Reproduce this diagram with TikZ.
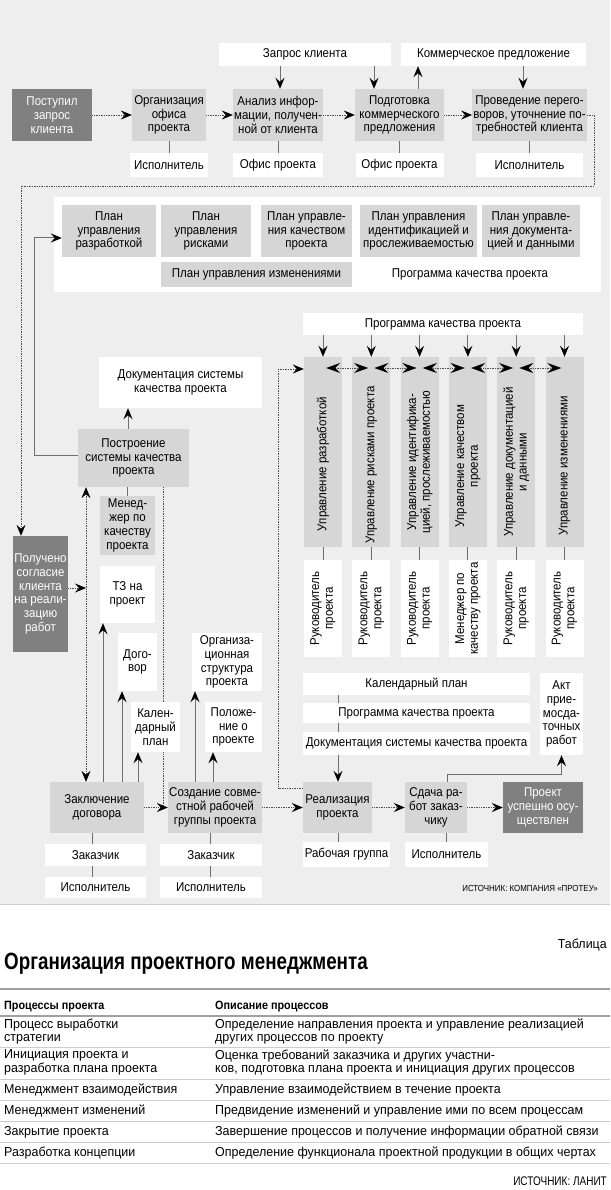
\documentclass[tikz,border=0pt]{standalone}
\usepackage{fontspec}
\setmainfont{Liberation Sans}
\newfontfamily\dfont[FakeStretch=0.9]{Liberation Sans}
\newfontfamily\tfont[FakeStretch=0.96]{Liberation Sans}
\newfontfamily\hfont[FakeStretch=0.8]{Liberation Sans}
\newfontfamily\hdfont[FakeStretch=0.9]{Liberation Sans}
\usetikzlibrary{arrows.meta,calc}
\pgfdeclarelayer{bgl}\pgfdeclarelayer{lines}
\pgfsetlayers{bgl,lines,main}
\definecolor{bgc}{RGB}{238,238,238}
\definecolor{lgc}{RGB}{214,214,214}
\definecolor{dgc}{RGB}{128,128,128}
\definecolor{lnc}{RGB}{110,110,110}
\definecolor{dlc}{RGB}{80,80,80}
\definecolor{rulec}{RGB}{160,160,160}
\definecolor{rulel}{RGB}{205,205,205}
\tikzset{
 box/.style={inner sep=1pt, align=center, font=\dfont\fontsize{12.8}{13.8}\selectfont},
 lg/.style={box, fill=lgc},
 wb/.style={box, fill=white},
 dk/.style={box, fill=dgc, text=white},
 wh/.style 2 args={minimum width=#1pt, minimum height=#2pt},
 sline/.style={draw=lnc, line width=1pt},
 dline/.style={draw=dlc, line width=0.7pt, densely dotted},
 arr/.style={-{Stealth[length=11pt,width=9pt,inset=4pt,color=black]}},
 darr/.style={{Stealth[length=11pt,width=9pt,inset=4pt,color=black]}-{Stealth[length=11pt,width=9pt,inset=4pt,color=black]}},
 barr/.style={{Stealth[length=14pt,width=10pt,inset=5pt,color=black]}-{Stealth[length=14pt,width=10pt,inset=5pt,color=black]}},
 rot/.style={box, rotate=90},
 trow/.style={anchor=west, inner sep=0pt, align=left, font=\tfont\fontsize{13}{13.5}\selectfont},
 thdr/.style={anchor=west, inner sep=0pt, font=\hdfont\bfseries\fontsize{12}{14}\selectfont},
}
\begin{document}
\begin{tikzpicture}[x=1pt,y=-1pt]
\useasboundingbox (0,0) rectangle (610,1190);
\begin{pgfonlayer}{bgl}
\fill[bgc] (0,0) rectangle (610,904);
\draw[rulel] (0,904) -- (610,904);
\fill[white] (54,197) rectangle (601,292);
\end{pgfonlayer}

% ---------- top row
\node[dk,wh={80}{52}] (post) at (52,115) {Поступил\\запрос\\клиента};
\node[lg,wh={74}{52}] (org) at (169,115) {Организация\\офиса\\проекта};
\node[lg,wh={90}{52}] (anal) at (278,115) {Анализ инфор-\\мации, получен-\\ной от клиента};
\node[lg,wh={89}{52}] (podg) at (399.5,115) {Подготовка\\коммерческого\\предложения};
\node[lg,wh={113}{52}] (prov) at (529.5,115) {Проведение перего-\\воров, уточнение по-\\требностей клиента};
\node[wb,wh={172}{23}] (zapr) at (305,54.5) {Запрос клиента};
\node[wb,wh={185}{23}] (komm) at (493.5,54.5) {Коммерческое предложение};
\node[wb,wh={78}{24}] (isp1) at (169,165) {Исполнитель};
\node[wb,wh={90}{24}] (off1) at (278,165) {Офис проекта};
\node[wb,wh={88}{24}] (off2) at (399.5,165) {Офис проекта};
\node[wb,wh={107}{24}] (isp2) at (529.5,165) {Исполнитель};

% ---------- plans
\node[lg,wh={94}{52}] (p1) at (109,231) {План\\управления\\разработкой};
\node[lg,wh={90}{52}] (p2) at (206,231) {План\\управления\\рисками};
\node[lg,wh={91}{52}] (p3) at (306.5,231) {План управле-\\ния качеством\\проекта};
\node[lg,wh={117}{52}] (p4) at (418.5,231) {План управления\\идентификацией и\\прослеживаемостью};
\node[lg,wh={98}{52}] (p5) at (531,231) {План управле-\\ния документа-\\цией и данными};
\node[lg,wh={191}{25}] (p6) at (256.5,274.5) {План управления изменениями};
\node[wb,wh={220}{25}] (p7) at (470,274.5) {Программа качества проекта};

% ---------- left middle
\node[wb,wh={163}{51}] (dokum) at (180.5,382.5) {Документация системы\\качества проекта};
\node[lg,wh={111}{58}] (postr) at (133.5,458) {Построение\\системы качества\\проекта};
\node[lg,wh={55}{59}] (men) at (127.5,525.5) {Менед-\\жер по\\качеству\\проекта};
\node[dk,wh={55}{116}] (poluch) at (40.5,594) {Получено\\согласие\\клиента\\на реали-\\зацию\\работ};
\node[wb,wh={55}{57}] (tz) at (127.5,594.5) {ТЗ на\\проект};
\node[wb,wh={39}{58}] (dog) at (137.5,662) {Дого-\\вор};
\node[wb,wh={49}{50}] (kal) at (155.5,727) {Кален-\\дарный\\план};
\node[wb,wh={70}{58}] (ostr) at (227,662) {Организа-\\ционная\\структура\\проекта};
\node[wb,wh={57}{50}] (polo) at (233.5,727) {Положе-\\ние о\\проекте};
\node[lg,wh={94}{51}] (zakl) at (97,807.5) {Заключение\\договора};
\node[lg,wh={94}{51}] (sozd) at (215,807.5) {Создание совме-\\стной рабочей\\группы проекта};
\node[wb,wh={101}{22}] (zak1) at (95.5,855) {Заказчик};
\node[wb,wh={102}{22}] (zak2) at (211,855) {Заказчик};
\node[wb,wh={101}{21}] (isp4) at (95.5,887.5) {Исполнитель};
\node[wb,wh={102}{21}] (isp5) at (211,887.5) {Исполнитель};

% ---------- right side
\node[wb,wh={280}{22}] (prog) at (443,324) {Программа качества проекта};
\node[lg,wh={38}{190}] (c1) at (323,452) {};
\node[lg,wh={38}{190}] (c2) at (371.3,452) {};
\node[lg,wh={38}{190}] (c3) at (419.6,452) {};
\node[lg,wh={38}{190}] (c4) at (467.9,452) {};
\node[lg,wh={38}{190}] (c5) at (516.2,452) {};
\node[lg,wh={38}{190}] (c6) at (564.5,452) {};
\node[rot] (t1) at (323,464) {Управление разработкой};
\node[rot] (t2) at (371.3,465) {Управление рисками проекта};
\node[rot] (t3) at (419.6,462) {Управление идентифика-\\цией, прослеживаемостью};
\node[rot] (t4) at (467.9,466) {Управление качеством\\проекта};
\node[rot] (t5) at (516.2,462) {Управление документацией\\и данными};
\node[rot] (t6) at (564.5,466) {Управление изменениями};
\node[wb,wh={38}{97}] (l1) at (323,608.5) {};
\node[wb,wh={38}{97}] (l2) at (371.3,608.5) {};
\node[wb,wh={38}{97}] (l3) at (419.6,608.5) {};
\node[wb,wh={38}{97}] (l4) at (467.9,608.5) {};
\node[wb,wh={38}{97}] (l5) at (516.2,608.5) {};
\node[wb,wh={38}{97}] (l6) at (564.5,608.5) {};
\node[rot] (lt1) at (l1) {Руководитель\\проекта};
\node[rot] (lt2) at (l2) {Руководитель\\проекта};
\node[rot] (lt3) at (l3) {Руководитель\\проекта};
\node[rot] (lt4) at (l4) {Менеджер по\\качеству проекта};
\node[rot] (lt5) at (l5) {Руководитель\\проекта};
\node[rot] (lt6) at (l6) {Руководитель\\проекта};
\node[wb,wh={227}{22}] (kalp) at (416.5,684) {Календарный план};
\node[wb,wh={227}{20}] (prog2) at (416.5,713) {Программа качества проекта};
\node[wb,wh={227}{23}] (dok2) at (416.5,743.5) {Документация системы качества проекта};
\node[wb,wh={43}{82}] (akt) at (561.5,714) {Акт\\прие-\\мосда-\\точных\\работ};
\node[lg,wh={69}{51}] (real) at (337.5,807.5) {Реализация\\проекта};
\node[lg,wh={62}{51}] (sdach) at (436,807.5) {Сдача ра-\\бот заказ-\\чику};
\node[dk,wh={80}{51}] (uspeh) at (543,807.5) {Проект\\успешно осу-\\ществлен};
\node[wb,wh={87}{25}] (rabgr) at (346.5,854.5) {Рабочая группа};
\node[wb,wh={83}{25}] (isp3) at (446.5,854.5) {Исполнитель};
\node[anchor=east, inner sep=0pt, font=\dfont\fontsize{8.8}{10}\selectfont] (src1) at (598,888) {ИСТОЧНИК: КОМПАНИЯ «ПРОТЕУ»};

\coordinate (x86) at (86,0);
\coordinate (x103) at (103,0);
\coordinate (x122) at (122,0);
\coordinate (x138) at (138,0);
\coordinate (x163) at (163,0);
\coordinate (x195) at (195,0);
\coordinate (x213) at (213,0);
\coordinate (x338) at (338,0);

\begin{pgfonlayer}{lines}
% top row
\draw[dline,arr] (post) -- (org);
\draw[dline,arr] (org) -- (anal);
\draw[dline,arr] (anal) -- (podg);
\draw[dline,arr] (podg) -- (prov);
\draw[sline,arr] ([xshift=2pt]anal.north |- zapr.south) -- ([xshift=2pt]anal.north);
\draw[sline,arr] ([xshift=-25.5pt]podg.north |- zapr.south) -- ([xshift=-25.5pt]podg.north);
\draw[sline,arr] ([xshift=18.5pt]podg.north) -- ([xshift=18.5pt]podg.north |- komm.south);
\draw[sline,arr] ([xshift=-6.5pt]prov.north |- komm.south) -- ([xshift=-6.5pt]prov.north);
\draw[sline] (org) -- (isp1);
\draw[sline] (anal) -- (off1);
\draw[sline] (podg) -- (off2);
\draw[sline] (prov) -- (isp2);
\draw[dline,arr] (prov.east) -- ++(7,0) -- ++(0,71) -| ([xshift=-19.5pt]poluch.north);
% left
\draw[sline,arr] ([yshift=3pt]postr.west) -- ++(-43,0) |- ([yshift=-7pt]p1.west);
\draw[sline,arr] ([xshift=-5.5pt]postr.north) -- ([xshift=-5.5pt]postr.north |- dokum.south);
\draw[sline] (men.north |- postr.south) -- (men.north);
\draw[dline,darr] (postr.south -| x86) -- (zakl.north -| x86);
\draw[dline,arr] ([yshift=6pt]poluch.east) -- ([yshift=6pt]poluch.east -| x86);
\draw[dline] (postr.south -| x163) -- (zakl.east -| x163);
\draw[dline,arr] (zakl) -- (sozd);
\draw[sline,arr] (zakl.north -| x103) -- (tz.south -| x103);
\draw[sline,arr] (zakl.north -| x122) -- (dog.south -| x122);
\draw[sline,arr] (zakl.north -| x138) -- (kal.south -| x138);
\draw[sline,arr] (sozd.north -| x195) -- (ostr.south -| x195);
\draw[sline,arr] (sozd.north -| x213) -- (polo.south -| x213);
\draw[sline] ([xshift=-5pt]zakl.south) -- ([xshift=-5pt]zakl.south |- zak1.north);
\draw[sline] ([xshift=-5pt]zakl.south |- zak1.south) -- ([xshift=-5pt]zakl.south |- isp4.north);
\draw[sline] ([xshift=-5pt]sozd.south) -- ([xshift=-5pt]sozd.south |- zak2.north);
\draw[sline] ([xshift=-5pt]sozd.south |- zak2.south) -- ([xshift=-5pt]sozd.south |- isp5.north);
% right
\draw[dline,arr] (sozd) -- (real);
\draw[dline,arr] (real) -- (sdach);
\draw[dline,arr] (sdach) -- (uspeh);
\draw[dline,arr] ([yshift=19.5pt]real.west) -- ++(-24,0) |- ([yshift=83pt]c1.west);
\foreach \c in {c1,c2,c3,c4,c5,c6}{
  \draw[sline,arr] (prog.south -| \c.north) -- (\c.north);
}
\draw[sline] (c1) -- (l1); \draw[sline] (c2) -- (l2); \draw[sline] (c3) -- (l3);
\draw[sline] (c4) -- (l4); \draw[sline] (c5) -- (l5); \draw[sline] (c6) -- (l6);
\draw[sline] (kalp.south -| x338) -- (prog2.north -| x338);
\draw[sline] (prog2.south -| x338) -- (dok2.north -| x338);
\draw[sline,arr] (dok2.south -| x338) -- (real.north -| x338);
\draw[sline,arr] ([xshift=11pt]sdach.north) -- ++(0,-7) -| (akt.south);
\draw[sline] (real.south -| x338) -- (rabgr.north -| x338);
\draw[sline] (isp3.north |- sdach.south) -- (isp3.north);
\end{pgfonlayer}
% double arrows between columns (on top)
\draw[dline,barr] ($(c1.east)!.5!(c2.west)+(-21,-84)$) -- ($(c1.east)!.5!(c2.west)+(21,-84)$);
\draw[dline,barr] ($(c2.east)!.5!(c3.west)+(-21,-84)$) -- ($(c2.east)!.5!(c3.west)+(21,-84)$);
\draw[dline,barr] ($(c3.east)!.5!(c4.west)+(-21,-84)$) -- ($(c3.east)!.5!(c4.west)+(21,-84)$);
\draw[dline,barr] ($(c4.east)!.5!(c5.west)+(-21,-84)$) -- ($(c4.east)!.5!(c5.west)+(21,-84)$);
\draw[dline,barr] ($(c5.east)!.5!(c6.west)+(-21,-84)$) -- ($(c5.east)!.5!(c6.west)+(21,-84)$);

% ---------- table
\node[anchor=east, inner sep=0pt, font=\tfont\fontsize{13}{15}\selectfont] (tabl) at (607,945) {Таблица};
\node[anchor=west, inner sep=0pt, font=\hfont\bfseries\fontsize{23.5}{25}\selectfont] (title) at (4,964) {Организация проектного менеджмента};
\draw[rulec, line width=1.3pt] (0,989) -- (610,989);
\node[thdr] (h1) at (4,1007) {Процессы проекта};
\node[thdr] (h2) at (215,1007) {Описание процессов};
\draw[rulec, line width=1.3pt] (0,1016) -- (610,1016);
\node[trow] (r1a) at (4,1031.5) {Процесс выработки\\стратегии};
\node[trow] (r1b) at (215,1031.5) {Определение направления проекта и управление реализацией\\других процессов по проекту};
\draw[rulel] (0,1047) -- (610,1047);
\node[trow] (r2a) at (4,1062.5) {Инициация проекта и\\разработка плана проекта};
\node[trow] (r2b) at (215,1062.5) {Оценка требований заказчика и других участни-\\ков, подготовка плана проекта и инициация других процессов};
\draw[rulel] (0,1079) -- (610,1079);
\node[trow] (r3a) at (4,1090) {Менеджмент взаимодействия};
\node[trow] (r3b) at (215,1090) {Управление взаимодействием в течение проекта};
\draw[rulel] (0,1100) -- (610,1100);
\node[trow] (r4a) at (4,1111) {Менеджмент изменений};
\node[trow] (r4b) at (215,1111) {Предвидение изменений и управление ими по всем процессам};
\draw[rulel] (0,1121) -- (610,1121);
\node[trow] (r5a) at (4,1132) {Закрытие проекта};
\node[trow] (r5b) at (215,1132) {Завершение процессов и получение информации обратной связи};
\draw[rulel] (0,1142) -- (610,1142);
\node[trow] (r6a) at (4,1153) {Разработка концепции};
\node[trow] (r6b) at (215,1153) {Определение функционала проектной продукции в общих чертах};
\draw[rulel] (0,1163) -- (610,1163);
\node[anchor=east, inner sep=0pt, font=\hfont\fontsize{12.5}{14}\selectfont] (src2) at (607,1181) {ИСТОЧНИК: ЛАНИТ};
\end{tikzpicture}
\end{document}
